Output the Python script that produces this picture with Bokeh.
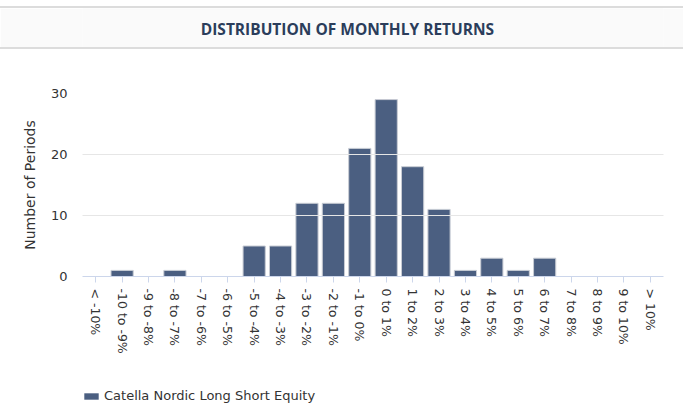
from bokeh.plotting import figure
from bokeh.models import (Range1d, FactorRange, FixedTicker, Label, Legend, LegendItem,
                          ColumnDataSource, Spacer)
from bokeh.layouts import column
from bokeh.embed import file_html
from bokeh.resources import INLINE

categories = ["< -10%", "-10 to -9%", "-9 to -8%", "-8 to -7%", "-7 to -6%", "-6 to -5%",
              "-5 to -4%", "-4 to -3%", "-3 to -2%", "-2 to -1%", "-1 to 0%", "0 to 1%",
              "1 to 2%", "2 to 3%", "3 to 4%", "4 to 5%", "5 to 6%", "6 to 7%",
              "7 to 8%", "8 to 9%", "9 to 10%", "> 10%"]
counts = [0, 1, 0, 1, 0, 0, 5, 5, 12, 12, 21, 29, 18, 11, 1, 3, 1, 3, 0, 0, 0, 0]
y_ticks = [0, 10, 20, 30]
series_name = "Catella Nordic Long Short Equity"
title_text = "DISTRIBUTION OF MONTHLY RETURNS"
y_label = "Number of Periods"

FONT = "DejaVu Sans"
BAR = "#4b5f81"
W = 683


def bare(fig, fill):
    fig.axis.visible = False
    fig.grid.visible = False
    fig.outline_line_color = None
    fig.background_fill_color = fill
    fig.border_fill_color = fill


# ---- title band ----
gap = Spacer(width=W, height=6)
line_top = Spacer(width=W, height=2, styles={"background-color": "#dcdcdc"})
line_bot = Spacer(width=W, height=2, styles={"background-color": "#dcdcdc"})
t = figure(width=W, height=39, x_range=Range1d(0, 1), y_range=Range1d(0, 39),
           output_backend="svg", toolbar_location=None, min_border=0,
           min_border_left=0, min_border_right=0, min_border_top=0, min_border_bottom=0)
bare(t, "#fafafa")
t.add_layout(Label(x=0.456, y=19, text=title_text, text_align="center", text_baseline="middle",
                   text_font="Open Sans", text_font_style="bold", text_font_size="15.5px",
                   text_color="#2b3d5b"))

# ---- main chart ----
src = ColumnDataSource(data=dict(cat=categories, count=counts))
p = figure(width=W, height=321, x_range=FactorRange(*categories, range_padding=0),
           y_range=Range1d(0, y_ticks[-1]), output_backend="svg", toolbar_location=None,
           min_border_left=82, min_border_right=20, min_border_top=44, min_border_bottom=94)
p.outline_line_color = None
p.background_fill_color = "white"
p.border_fill_color = "white"

r = p.vbar(x="cat", top="count", width=0.84, source=src, fill_color=BAR,
           line_color="#c8ccd4", line_width=1)

p.xgrid.visible = False
p.ygrid.ticker = FixedTicker(ticks=y_ticks[1:])
p.ygrid.grid_line_color = "#e6e6e6"
p.ygrid.level = "annotation"

p.yaxis.ticker = FixedTicker(ticks=y_ticks)
p.yaxis.axis_line_color = None
p.yaxis.major_tick_line_color = None
p.yaxis.major_tick_out = 0
p.yaxis.major_tick_in = 0
p.yaxis.minor_tick_line_color = None
p.yaxis.major_label_standoff = 15
p.yaxis.major_label_text_font = FONT
p.yaxis.major_label_text_font_size = "13px"
p.yaxis.major_label_text_color = "#333333"
p.yaxis.axis_label = y_label
p.yaxis.axis_label_text_font = FONT
p.yaxis.axis_label_text_font_size = "14px"
p.yaxis.axis_label_text_font_style = "normal"
p.yaxis.axis_label_text_color = "#333333"
p.yaxis.axis_label_standoff = 10

p.xaxis.axis_line_color = "#ccd6eb"
p.xaxis.major_tick_line_color = "#ccd6eb"
p.xaxis.major_tick_out = 6
p.xaxis.major_tick_in = 0
p.xaxis.minor_tick_line_color = None
p.xaxis.major_label_orientation = "vertical"
p.xaxis.major_label_standoff = 6
p.xaxis.major_label_text_font = FONT
p.xaxis.major_label_text_font_size = "12.5px"
p.xaxis.major_label_text_color = "#333333"

# ---- legend row (hidden copy of the series; only its legend entry shows) ----
lf = figure(width=W, height=35, x_range=FactorRange(*categories, range_padding=0),
            y_range=Range1d(0, y_ticks[-1]),
            output_backend="svg", toolbar_location=None, min_border=0,
            min_border_left=0, min_border_right=0, min_border_top=0, min_border_bottom=0)
bare(lf, "white")
lr = lf.vbar(x="cat", top="count", width=0.84, source=src, fill_color=BAR, line_color=None)
lr.visible = False
legend = Legend(items=[LegendItem(label=series_name, renderers=[lr])], location=(0, 2),
                orientation="horizontal", padding=0, margin=0, spacing=0,
                glyph_width=18, glyph_height=8, label_height=14, label_standoff=4,
                border_line_alpha=0, background_fill_alpha=0,
                inactive_fill_alpha=0,
                label_text_font=FONT, label_text_font_size="13px",
                label_text_color="#333333", label_text_baseline="middle")
lf.add_layout(legend, "center")

layout = column(gap, line_top, t, line_bot, p, lf, spacing=0)
open("out.html", "w").write(file_html(layout, INLINE))
